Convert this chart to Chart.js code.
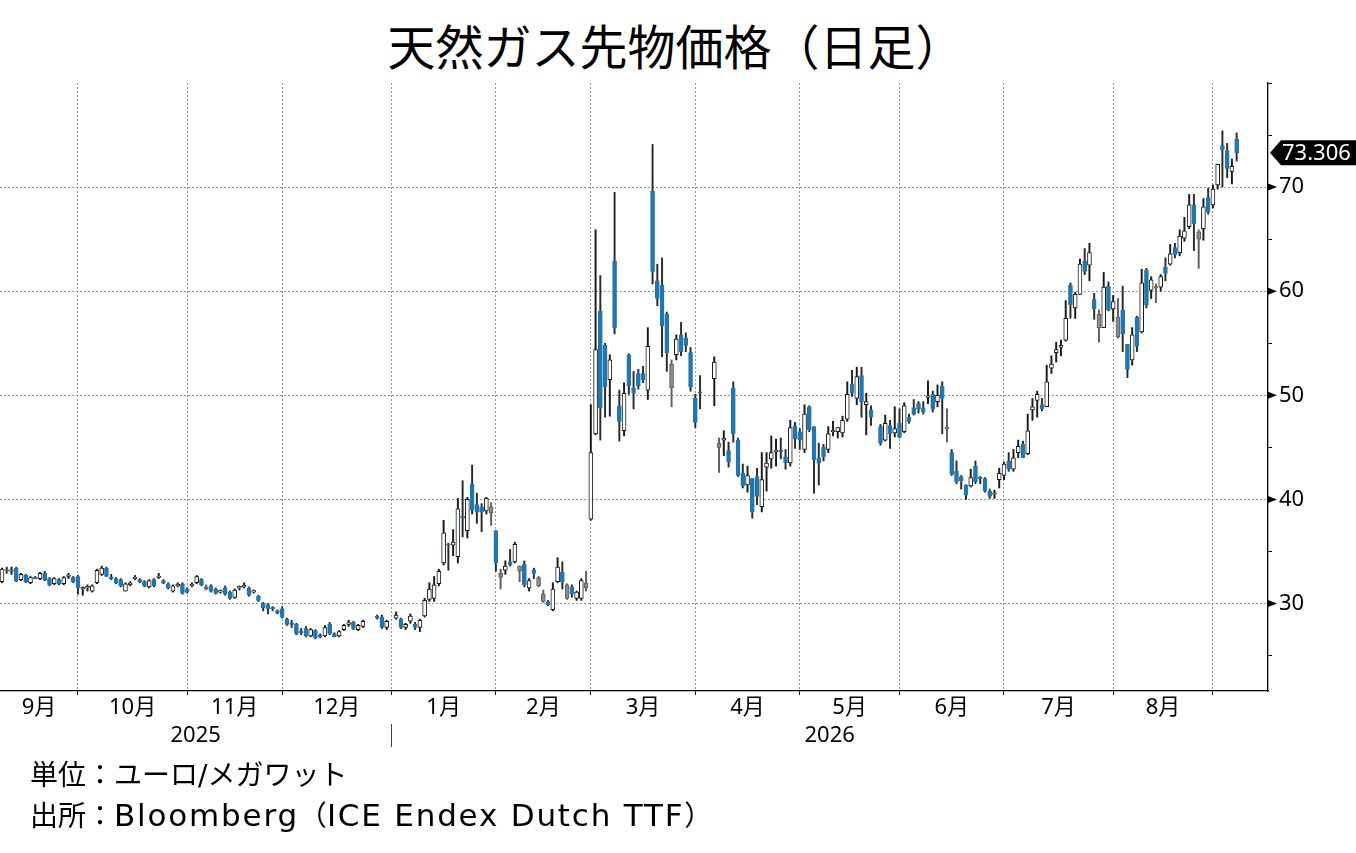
<!DOCTYPE html>
<html>
<head>
<meta charset="utf-8">
<script src="https://cdn.jsdelivr.net/npm/chart.js@4.4.1/dist/chart.umd.min.js"></script>
<style>
  html, body { margin: 0; padding: 0; background: #fff; }
  #wrap { position: relative; width: 1356px; height: 853px; overflow: hidden; }
  #chart { position: absolute; left: 0; top: 0; }
  .title { position: absolute; left: 0; width: 1351px; top: 20px; text-align: center;
           font: 48px/48px "Noto Sans CJK JP"; color: #000; }
  .note { position: absolute; left: 30px; font: 28px/28px "DejaVu Sans", "Noto Sans CJK JP"; color: #000; white-space: nowrap; }
  .latin { font-size: 31px; letter-spacing: 1.8px; }
</style>
</head>
<body>
<div id="wrap">
  <div class="title">天然ガス先物価格（日足）</div>
  <canvas id="chart" width="1356" height="853" style="width:1356px;height:853px"></canvas>
  <div class="note" style="top:762px">単位：ユーロ/メガワット</div>
  <div class="note" style="top:801px">出所：<span class="latin">Bloomberg</span>（<span class="latin">ICE Endex Dutch TTF</span>）</div>
</div>
<script>
/* global Chart */

// one entry per weekday from 2025-09-09 to 2026-09-08, null = no trading
var openPrices = [
  32.1, 33.2, 33.1, 33.4, 32.3, 32.7, 32.0, 32.5, 32.4, 32.9, 32.4, 31.9, 32.3, 31.9, 32.6, 32.5, // Sep
  32.6, 31.4, 31.5, 31.2, 32.0, 32.8, 33.4, 32.5, 32.4, 32.3, 31.2, 31.8, 32.4, 32.3, 32.1, 31.6, 32.3, 32.5, 32.2, 31.9, 31.2, 31.7, 31.9, // Oct
  31.4, 31.7, 32.0, 32.3, 31.4, 31.7, 31.4, 31.1, 31.5, 31.1, 30.6, 31.5, 31.6, 31.5, 31.1, 30.7, 30.0, 29.9, 29.6, 29.3, // Nov
  29.5, 28.5, 28.1, 28.0, 27.3, 27.6, 26.9, 27.4, 27.0, 26.9, 28.0, 27.1, 26.9, 27.5, 28.0, 28.2, 27.5, 27.8, null, null, 28.8, 28.7, 27.7, // Dec
  null, 28.6, 28.5, 27.7, 28.3, 28.0, 27.7, 28.8, 30.4, 30.5, 31.9, 33.9, 35.7, 35.6, 34.5, 38.4, 37.0, 41.5, 39.5, 39.3, 38.9, 38.7, // Jan
  37.0, 32.5, 33.2, 34.0, 34.0, 33.1, 33.8, 31.5, 33.2, 31.7, 30.2, 30.2, 29.4, 32.1, 33.0, 30.5, 31.6, 30.5, 30.5, 31.5, // Feb
  38.1, 46.3, 58.1, 54.8, 51.5, 62.9, 49.0, 46.6, 53.9, 50.7, 52.1, 52.1, 50.5, 69.6, 61.0, 60.6, 57.8, 50.7, 53.9, 55.8, 55.5, 54.1, // Mar
  49.7, 50.3, null, null, 51.6, 45.0, 45.7, 44.7, 50.7, 45.7, 42.5, 41.4, 42.0, 42.2, 39.3, 43.1, 43.9, 44.6, 44.7, 44.1, 43.5, 47.1, // Apr
  46.5, 44.8, 48.9, 47.0, 44.0, 45.0, 44.8, 46.5, 46.5, 46.4, 47.7, 51.1, 49.7, 51.9, 49.1, 48.6, null, 47.0, 45.7, 47.1, 46.4, // May
  47.3, 46.5, 47.9, 48.8, 49.2, 48.8, 49.8, 50.1, 49.4, 50.9, 46.8, 44.5, 42.7, 42.2, 41.4, 41.3, 43.2, 42.1, 42.0, 40.8, 40.5, 41.9, // Jun
  42.3, 43.7, 42.9, 44.5, 45.3, 44.4, 48.6, 49.5, 49.1, 48.9, 52.6, 54.1, 54.6, 55.3, 60.6, 58.4, 59.7, 62.9, 62.5, 59.2, 56.5, 56.5, 60.5, // Jul
  58.3, 55.6, 58.2, 54.9, 53.4, 57.5, 56.1, 62.0, 60.1, 60.3, 60.4, 62.3, 62.6, 64.2, 63.7, 65.1, 66.2, 68.3, 65.0, 66.0, 69.0, // Aug
  68.3, 70.2, 74.0, 73.5, 71.5, 74.6 // Sep
];
var highPrices = [
  33.4, 33.5, 33.5, 33.5, 32.9, 32.8, 32.6, 32.6, 33.0, 33.1, 32.5, 32.5, 32.4, 32.6, 32.9, 32.6,
  32.7, 31.6, 31.8, 31.8, 33.3, 33.6, 33.5, 32.8, 32.5, 32.4, 32.0, 32.1, 32.7, 32.4, 32.2, 32.3, 32.4, 32.9, 32.3, 32.0, 31.8, 32.0, 32.0,
  31.5, 32.0, 32.7, 32.4, 31.8, 31.8, 31.5, 31.3, 31.7, 31.2, 31.4, 31.7, 32.0, 31.6, 31.3, 30.8, 30.1, 30.0, 29.7, 29.4,
  29.7, 28.6, 28.4, 28.1, 27.6, 27.8, 27.6, 27.5, 27.1, 27.9, 28.2, 27.2, 27.4, 28.0, 28.4, 28.3, 28.0, 28.4, null, null, 28.9, 28.9, 28.4,
  null, 29.2, 28.6, 28.1, 29.0, 28.2, 28.5, 30.5, 32.0, 32.6, 33.3, 38.0, 35.8, 37.1, 40.1, 41.8, 40.2, 43.3, 40.6, 39.6, 40.2, 39.7,
  37.0, 33.3, 34.1, 35.2, 35.9, 33.6, 34.1, 32.4, 33.4, 32.6, 31.3, 30.3, 32.0, 34.4, 34.0, 31.9, 31.8, 31.2, 32.4, 33.1,
  49.1, 65.9, 61.5, 55.0, 53.9, 69.5, 50.5, 51.2, 54.0, 52.3, 52.5, 52.8, 56.5, 74.1, 62.6, 63.2, 58.0, 53.4, 55.8, 57.0, 56.0, 54.6,
  50.1, 51.9, null, null, 53.7, 45.9, 46.6, 45.5, 51.3, 45.9, 43.4, 43.2, 42.0, 43.0, 44.5, 44.5, 46.1, 45.8, 45.9, 44.8, 47.6, 47.4,
  46.8, 49.1, 49.0, 47.0, 45.4, 45.3, 47.0, 47.5, 46.9, 48.0, 51.3, 52.4, 52.7, 52.7, 50.2, 49.0, null, 47.2, 48.1, 47.6, 48.9,
  48.7, 49.3, 48.2, 49.6, 49.4, 49.4, 51.4, 50.4, 51.0, 51.3, 48.7, 44.8, 43.7, 42.3, 41.4, 42.9, 43.7, 42.2, 42.1, 41.0, 40.9, 43.0,
  43.6, 44.5, 44.8, 45.7, 45.6, 48.2, 49.7, 50.4, 49.7, 52.9, 53.8, 55.1, 55.3, 59.1, 60.8, 59.9, 63.1, 64.1, 64.6, 59.8, 58.2, 61.8, 60.9,
  59.6, 59.3, 60.5, 54.9, 56.5, 57.6, 62.1, 62.2, 61.4, 60.7, 61.6, 63.2, 64.5, 64.6, 65.9, 67.1, 69.3, 69.3, 65.9, 68.9, 69.9,
  70.2, 72.2, 75.4, 74.2, 72.7, 75.2
];
var lowPrices = [
  32.0, 32.9, 32.8, 32.1, 32.2, 32.0, 31.9, 32.4, 32.3, 32.2, 31.7, 31.8, 31.8, 31.8, 32.4, 32.0,
  30.9, 30.8, 31.2, 31.1, 31.9, 32.7, 32.6, 32.3, 31.9, 31.6, 31.2, 31.7, 32.3, 32.0, 31.6, 31.5, 31.6, 32.4, 31.9, 31.4, 31.1, 31.6, 30.9,
  31.0, 31.6, 31.9, 31.7, 31.3, 31.1, 30.9, 31.0, 30.8, 30.4, 30.5, 31.3, 31.5, 30.7, 31.0, 30.2, 29.3, 29.0, 29.3, 29.0,
  28.6, 27.9, 27.7, 27.0, 27.0, 26.8, 26.8, 26.6, 26.7, 26.8, 27.0, 26.8, 26.8, 27.4, 27.8, 27.5, 27.4, 27.7, null, null, 28.5, 27.6, 27.5,
  null, 28.5, 27.6, 27.5, 28.1, 27.5, 27.3, 28.7, 30.2, 30.2, 31.7, 33.7, 33.2, 34.6, 33.9, 36.4, 36.3, 38.6, 37.7, 36.9, 38.6, 37.5,
  33.1, 31.4, 32.8, 33.6, 33.9, 32.1, 31.6, 31.2, 32.4, 31.6, 30.1, 29.8, 29.3, 32.0, 31.4, 30.4, 30.6, 30.3, 30.3, 31.2,
  38.0, 46.2, 45.7, 47.9, 48.0, 55.9, 45.6, 46.1, 50.1, 48.7, 50.6, 51.2, 49.6, 60.7, 58.6, 53.7, 52.3, 48.9, 53.4, 53.8, 54.2, 50.4,
  46.9, 48.7, null, null, 49.0, 42.6, 44.2, 43.1, 45.5, 42.2, 41.1, 40.7, 38.2, 39.5, 38.8, 40.8, 43.0, 43.2, 43.9, 42.9, 43.2, 44.9,
  44.8, 44.5, 46.5, 40.6, 41.4, 43.7, 44.5, 46.1, 45.9, 46.0, 47.5, 49.9, 49.1, 47.9, 46.2, 47.1, null, 45.2, 45.6, 44.9, 46.0,
  45.9, 46.4, 47.3, 48.1, 48.3, 48.2, 49.2, 48.4, 48.9, 46.3, 45.5, 42.3, 41.5, 41.0, 40.0, 41.2, 41.5, 41.5, 40.7, 40.1, 40.1, 41.1,
  41.9, 42.7, 42.7, 44.0, 44.0, 44.3, 47.6, 47.9, 48.5, 48.9, 52.1, 53.2, 53.8, 55.2, 57.4, 57.4, 59.7, 61.6, 61.0, 57.3, 55.1, 56.5, 58.1,
  57.1, 55.5, 54.2, 51.7, 52.9, 54.2, 56.0, 58.4, 59.3, 58.9, 60.0, 61.0, 62.5, 63.2, 63.4, 64.8, 66.0, 63.9, 62.2, 64.9, 67.4,
  68.0, 69.8, 70.0, 70.9, 70.3, 72.5
];
var closePrices = [
  33.3, 33.1, 33.2, 32.2, 32.8, 32.1, 32.5, 32.4, 32.9, 32.3, 31.8, 32.4, 31.9, 32.5, 32.6, 32.1,
  31.5, 31.5, 31.6, 31.7, 33.2, 33.4, 32.6, 32.4, 32.0, 31.7, 31.9, 32.0, 32.5, 32.1, 31.7, 32.2, 31.7, 32.6, 32.0, 31.5, 31.7, 31.8, 31.0,
  31.1, 31.8, 32.6, 31.8, 31.6, 31.2, 31.0, 31.2, 30.9, 30.5, 31.3, 31.5, 31.7, 30.8, 31.2, 30.3, 29.6, 29.5, 29.5, 29.1,
  28.7, 28.0, 28.0, 27.1, 27.2, 26.9, 27.5, 26.7, 26.8, 27.7, 27.1, 26.8, 27.3, 27.9, 28.1, 27.6, 27.9, 28.3, null, null, 28.6, 27.7, 28.3,
  null, 28.9, 27.7, 28.0, 28.8, 27.7, 28.4, 30.3, 31.4, 31.8, 33.1, 36.8, 35.6, 35.9, 39.1, 38.2, 40.0, 39.0, 38.8, 38.8, 40.1, 39.3,
  33.9, 32.9, 33.6, 33.7, 35.7, 33.6, 31.8, 32.2, 32.9, 32.5, 30.9, 29.9, 31.4, 33.5, 32.1, 31.8, 30.9, 31.1, 32.2, 32.0,
  44.5, 54.4, 48.8, 50.8, 53.4, 56.5, 47.5, 50.2, 50.9, 50.2, 50.9, 51.5, 54.7, 61.9, 59.3, 56.7, 54.1, 53.0, 55.4, 54.2, 54.8, 50.8,
  47.4, 50.2, null, null, 53.2, 45.4, 45.9, 43.6, 46.3, 42.3, 41.3, 42.3, 38.8, 40.3, 41.9, 43.5, 44.5, 44.7, 44.6, 43.5, 46.9, 45.8,
  45.7, 48.2, 46.7, 43.8, 43.5, 44.1, 46.3, 46.6, 46.9, 47.6, 50.1, 50.2, 51.8, 49.4, 49.4, 47.9, null, 45.4, 47.3, 46.3, 46.8,
  46.0, 49.0, 47.5, 48.2, 48.7, 48.4, 49.9, 48.7, 50.0, 49.7, 46.8, 42.4, 41.7, 41.8, 40.4, 42.1, 41.7, 42.0, 40.8, 40.3, 40.6, 42.5,
  43.4, 42.9, 44.0, 45.1, 44.0, 46.6, 48.9, 50.1, 48.7, 51.3, 53.0, 54.4, 54.8, 57.4, 58.7, 59.7, 62.6, 61.9, 63.7, 58.3, 57.8, 60.4, 58.2,
  59.0, 57.5, 55.9, 52.5, 55.8, 54.7, 60.8, 58.7, 61.1, 60.4, 61.4, 61.7, 63.6, 63.5, 65.3, 65.8, 68.3, 66.5, 65.7, 68.1, 67.6,
  69.8, 72.2, 73.6, 71.8, 72.0, 73.306
];

var monthLabels = ["9月", "10月", "11月", "12月", "1月", "2月", "3月", "4月", "5月", "6月", "7月", "8月"];
var yearLabels = ["2025", "2026"];
var priceTicks = [25, 30, 35, 40, 45, 50, 55, 60, 65, 70, 75, 80];

var xMin = -0.42;
var xMax = 266.6;
var fontFamily = '"Noto Sans", "Noto Sans CJK JP", sans-serif';

// weekday calendar behind the index axis
var days = [];
var d = new Date(2025, 8, 9);
while (days.length < closePrices.length) {
  if (d.getDay() !== 0 && d.getDay() !== 6) days.push(new Date(d));
  d.setDate(d.getDate() + 1);
}

var monthStarts = [];
var yearStarts = [];
for (var i = 1; i < days.length; i++) {
  if (days[i].getMonth() !== days[i - 1].getMonth()) monthStarts.push(i);
  if (days[i].getFullYear() !== days[i - 1].getFullYear()) yearStarts.push(i);
}

var monthTicks = [];
monthStarts.forEach(function (s) {
  monthTicks.push({ value: s, lab: "", kind: "grid" });
});
var edges = [xMin].concat(monthStarts, [xMax]);
monthLabels.forEach(function (lab, k) {
  monthTicks.push({ value: (edges[k] + edges[k + 1]) / 2, lab: lab, kind: "label" });
});
monthTicks.sort(function (a, b) {
  return a.value - b.value;
});

var yEdges = [xMin].concat(yearStarts, [xMax]);
var yearTicks = yearLabels.map(function (lab, k) {
  return { value: (yEdges[k] + yEdges[k + 1]) / 2, lab: lab };
});

// candle colouring
var blue = "#2377ae";
var wickPoints = [];
var bodyPoints = [];
var bodyFill = [];
var bodyBorder = [];
var wickColor = [];
var prevClose = null;
for (var j = 0; j < closePrices.length; j++) {
  if (closePrices[j] === null) continue;
  var o = openPrices[j];
  var c = closePrices[j];
  var pc = prevClose === null ? o : prevClose;
  wickPoints.push({ x: j, y: [lowPrices[j], highPrices[j]] });
  bodyPoints.push({ x: j, y: [o, c] });
  if (c < o) {
    bodyFill.push(blue);
    bodyBorder.push(blue);
    wickColor.push("#2b2b2b");
  } else if (c < pc) {
    bodyFill.push("#8c8c8c");
    bodyBorder.push("#5e5e5e");
    wickColor.push("#5e5e5e");
  } else {
    bodyFill.push("#ffffff");
    bodyBorder.push("#1a1a1a");
    wickColor.push("#1a1a1a");
  }
  prevClose = c;
}

var axisExtras = {
  id: "axisExtras",
  afterDraw: function (chart) {
    var ctx = chart.ctx;
    var y = chart.scales.y;
    var x = chart.scales.x;
    var x0 = y.left;
    ctx.save();
    ctx.fillStyle = "#000";
    priceTicks.forEach(function (v) {
      if (v % 10 !== 0 || v >= 80) return;
      var py = y.getPixelForValue(v);
      ctx.beginPath();
      ctx.moveTo(x0, py - 3.5);
      ctx.lineTo(x0 + 9, py);
      ctx.lineTo(x0, py + 3.5);
      ctx.closePath();
      ctx.fill();
    });

    // last price tag
    var last = closePrices[closePrices.length - 1];
    var ly = y.getPixelForValue(last);
    ctx.beginPath();
    ctx.moveTo(x0 + 2, ly);
    ctx.lineTo(x0 + 13, ly - 12.5);
    ctx.lineTo(chart.width, ly - 12.5);
    ctx.lineTo(chart.width, ly + 12.5);
    ctx.lineTo(x0 + 13, ly + 12.5);
    ctx.closePath();
    ctx.fill();
    ctx.fillStyle = "#fff";
    ctx.font = "22px " + fontFamily;
    ctx.textAlign = "left";
    ctx.textBaseline = "middle";
    ctx.fillText(last.toFixed(3), x0 + 14, ly + 1);

    // year divider
    yearStarts.forEach(function (s) {
      var px = Math.round(x.getPixelForValue(s)) + 0.5;
      ctx.strokeStyle = "#444";
      ctx.lineWidth = 1;
      ctx.beginPath();
      ctx.moveTo(px, 724);
      ctx.lineTo(px, 747);
      ctx.stroke();
    });
    ctx.restore();
  },
};

Chart.defaults.color = "#000";
Chart.defaults.font.family = fontFamily;

var ctx = document.getElementById("chart").getContext("2d");
var gasChart = new Chart(ctx, {
  type: "bar",
  data: {
    datasets: [
      {
        label: "body",
        data: bodyPoints,
        backgroundColor: bodyFill,
        borderColor: bodyBorder,
        borderWidth: 1,
        borderSkipped: false,
        barThickness: 4,
        minBarLength: 1.5,
        grouped: false,
        order: 0,
      },
      {
        label: "wick",
        data: wickPoints,
        backgroundColor: wickColor,
        borderWidth: 0,
        barThickness: 1.3,
        grouped: false,
        order: 1,
      },
    ],
  },
  options: {
    responsive: false,
    animation: false,
    events: [],
    layout: {
      padding: { top: 83, left: 0, right: 0, bottom: 100 },
    },
    plugins: {
      legend: { display: false },
      tooltip: { enabled: false },
    },
    scales: {
      x: {
        type: "linear",
        position: "bottom",
        min: xMin,
        max: xMax,
        bounds: "data",
        offset: false,
        afterBuildTicks: function (scale) {
          scale.ticks = monthTicks.map(function (t) {
            return { value: t.value, lab: t.lab, kind: t.kind };
          });
        },
        afterFit: function (scale) {
          scale.height = 28;
        },
        ticks: {
          autoSkip: false,
          maxRotation: 0,
          padding: 0,
          font: { size: 22 },
          callback: function (value, index, ticks) {
            return ticks[index].lab;
          },
        },
        grid: {
          offset: false,
          drawTicks: true,
          tickLength: 4,
          lineWidth: 1,
          color: function (c) {
            return c.tick && c.tick.kind === "grid" ? "#9a9a9a" : "rgba(0,0,0,0)";
          },
          tickColor: function (c) {
            return c.tick && c.tick.kind === "grid" ? "#000" : "rgba(0,0,0,0)";
          },
        },
        border: { display: true, color: "#000", width: 1.3, dash: [2, 2] },
      },
      x2: {
        type: "linear",
        position: "bottom",
        min: xMin,
        max: xMax,
        bounds: "data",
        offset: false,
        afterBuildTicks: function (scale) {
          scale.ticks = yearTicks.map(function (t) {
            return { value: t.value, lab: t.lab };
          });
        },
        afterFit: function (scale) {
          scale.height = 34;
        },
        ticks: {
          autoSkip: false,
          maxRotation: 0,
          padding: 4,
          font: { size: 22 },
          callback: function (value, index, ticks) {
            return ticks[index].lab;
          },
        },
        grid: { display: false, drawTicks: false },
        border: { display: false },
      },
      y: {
        type: "linear",
        position: "right",
        min: 21.6,
        max: 80,
        bounds: "data",
        beginAtZero: false,
        afterBuildTicks: function (scale) {
          scale.ticks = priceTicks.map(function (v) {
            return { value: v };
          });
        },
        afterFit: function (scale) {
          scale.width = 88;
        },
        ticks: {
          padding: 7,
          font: { size: 22 },
          callback: function (value) {
            return value % 10 === 0 && value < 80 ? String(value) : "";
          },
        },
        grid: {
          drawTicks: true,
          tickLength: 4,
          lineWidth: 1,
          color: function (c) {
            return c.tick && c.tick.value % 10 === 0 && c.tick.value < 80 ? "#9a9a9a" : "rgba(0,0,0,0)";
          },
          tickColor: "#000",
        },
        border: { display: true, color: "#000", width: 1.3, dash: [2, 2] },
      },
    },
  },
  plugins: [axisExtras],
});
</script>
</body>
</html>
